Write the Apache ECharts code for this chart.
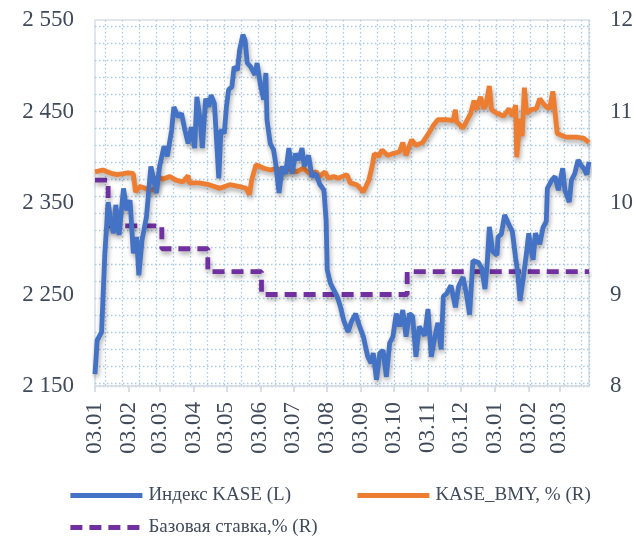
<!DOCTYPE html>
<html>
<head>
<meta charset="utf-8">
<script src="https://cdn.jsdelivr.net/npm/echarts@6/dist/echarts.min.js"></script>
<style>
html,body{margin:0;padding:0;background:#fff;}
#c{width:636px;height:538px;}
</style>
</head>
<body>
<div id="c"></div>
<script>
// ---- data ----
var kaseDates = ['2018-01-03','2018-01-05','2018-01-09','2018-01-12','2018-01-15','2018-01-17','2018-01-20','2018-01-22','2018-01-25','2018-01-29',
'2018-02-01','2018-02-04','2018-02-07','2018-02-10','2018-02-12','2018-02-15','2018-02-19','2018-02-23','2018-02-25','2018-02-28',
'2018-03-03','2018-03-07','2018-03-10','2018-03-14','2018-03-16','2018-03-20','2018-03-23','2018-03-26','2018-03-29',
'2018-04-01','2018-04-04','2018-04-06','2018-04-09','2018-04-11','2018-04-14','2018-04-17','2018-04-19','2018-04-22','2018-04-26','2018-04-28',
'2018-05-01','2018-05-03','2018-05-05','2018-05-08','2018-05-10','2018-05-13','2018-05-15','2018-05-18','2018-05-20','2018-05-22','2018-05-25','2018-05-29','2018-05-31',
'2018-06-03','2018-06-06','2018-06-08','2018-06-09','2018-06-12','2018-06-15','2018-06-17','2018-06-20','2018-06-23','2018-06-26','2018-06-29',
'2018-07-02','2018-07-05','2018-07-08','2018-07-11','2018-07-13','2018-07-17','2018-07-20','2018-07-24','2018-07-27','2018-07-31',
'2018-08-02','2018-08-03','2018-08-06','2018-08-09','2018-08-12','2018-08-15','2018-08-18','2018-08-22','2018-08-25','2018-08-29',
'2018-09-01','2018-09-05','2018-09-09','2018-09-12','2018-09-14','2018-09-17','2018-09-20','2018-09-23','2018-09-26','2018-09-29',
'2018-10-02','2018-10-05','2018-10-08','2018-10-11','2018-10-14','2018-10-17','2018-10-20','2018-10-23','2018-10-26','2018-10-31',
'2018-11-03','2018-11-06','2018-11-09','2018-11-12','2018-11-15','2018-11-17','2018-11-20','2018-11-24','2018-11-28',
'2018-12-01','2018-12-05','2018-12-08','2018-12-11','2018-12-14','2018-12-19','2018-12-22','2018-12-25','2018-12-27','2018-12-29',
'2019-01-01','2019-01-05','2019-01-06','2019-01-09','2019-01-12','2019-01-16','2019-01-19','2019-01-22','2019-01-24','2019-01-26','2019-01-29',
'2019-02-01','2019-02-03','2019-02-05','2019-02-07','2019-02-09','2019-02-13','2019-02-16','2019-02-19','2019-02-20','2019-02-24','2019-02-27',
'2019-03-02','2019-03-06','2019-03-08','2019-03-12','2019-03-14','2019-03-17','2019-03-20','2019-03-23','2019-03-25','2019-03-28','2019-03-30'];
var kaseValues = [2163,2200,2209,2295,2351,2331,2317,2348,2315,2366,
2342,2353,2295,2313,2271,2310,2335,2390,2379,2361,
2390,2412,2401,2430,2455,2444,2448,2430,2415,
2433,2410,2466,2441,2410,2464,2455,2468,2459,2377,2430,
2426,2455,2474,2477,2499,2495,2517,2534,2528,2503,2499,2490,2503,
2479,2463,2492,2441,2415,2408,2393,2361,2390,2382,2410,
2382,2404,2397,2410,2390,2402,2379,2382,2371,2364,
2331,2277,2262,2255,2248,2237,2222,2209,2220,2229,
2217,2204,2182,2175,2186,2157,2186,2189,2160,2197,
2204,2229,2215,2233,2204,2229,2226,2182,2215,2205,
2234,2182,2202,2219,2190,2248,2251,2260,2236,
2259,2269,2251,2228,2287,2285,2279,2256,2283,2324,
2297,2293,2313,2316,2337,2326,2319,2290,2273,2243,2268,
2296,2317,2299,2288,2317,2305,2323,2330,2366,2375,2379,
2364,2388,2364,2351,2375,2382,2397,2391,2388,2381,2395];

var bmyDates = ['2018-01-03','2018-01-10','2018-01-19','2018-01-23','2018-01-29','2018-02-02','2018-02-07','2018-02-09','2018-02-13','2018-02-18','2018-02-23','2018-02-27',
'2018-03-01','2018-03-06','2018-03-12','2018-03-18','2018-03-24','2018-03-29','2018-03-30','2018-04-08','2018-04-17','2018-04-27',
'2018-05-06','2018-05-15','2018-05-21','2018-05-24','2018-05-26','2018-05-30','2018-06-06','2018-06-12','2018-06-18','2018-06-24','2018-06-30',
'2018-07-06','2018-07-12','2018-07-18','2018-07-24','2018-07-27','2018-08-01','2018-08-04','2018-08-09','2018-08-13','2018-08-21','2018-08-24','2018-08-30',
'2018-09-05','2018-09-10','2018-09-13','2018-09-15','2018-09-19','2018-09-22','2018-09-27','2018-10-02','2018-10-08','2018-10-11','2018-10-14','2018-10-19','2018-10-23','2018-10-29',
'2018-11-03','2018-11-08','2018-11-12','2018-11-20','2018-11-26','2018-11-28','2018-11-29','2018-12-05','2018-12-08','2018-12-12','2018-12-15','2018-12-17','2018-12-21','2018-12-24','2018-12-26','2018-12-29','2018-12-31',
'2019-01-05','2019-01-11','2019-01-16','2019-01-19','2019-01-22','2019-01-23','2019-01-26','2019-01-28','2019-01-30','2019-02-01','2019-02-05','2019-02-10','2019-02-13','2019-02-16','2019-02-19','2019-02-22','2019-02-25',
'2019-03-01','2019-03-09','2019-03-18','2019-03-25','2019-03-30'];
var bmyValues = [10.34,10.36,10.32,10.31,10.32,10.33,10.32,10.12,10.18,10.16,10.14,10.16,
10.29,10.26,10.29,10.25,10.23,10.30,10.22,10.22,10.20,10.16,
10.20,10.18,10.16,10.09,10.25,10.42,10.38,10.36,10.38,10.34,10.38,
10.34,10.38,10.32,10.34,10.29,10.34,10.27,10.29,10.27,10.31,10.22,10.20,
10.12,10.25,10.40,10.54,10.51,10.58,10.52,10.54,10.56,10.66,10.52,10.69,10.63,10.66,
10.75,10.85,10.91,10.91,10.90,11.02,10.89,10.82,10.89,10.98,11.12,11.02,11.16,11.03,11.08,11.28,11.02,
10.98,10.95,11.03,10.95,11.07,10.50,10.92,10.73,11.26,10.98,11.02,11.03,11.14,11.09,11.05,11.03,11.22,
10.76,10.72,10.72,10.71,10.66];

var rateDates = ['2018-01-03','2018-01-15','2018-03-05','2018-04-16','2018-06-04','2018-10-15','2019-03-30'];
var rateValues = [10.25,9.75,9.5,9.25,9.0,9.25,9.25];

var tickDates = ['2018-01-03','2018-02-03','2018-03-03','2018-04-03','2018-05-03','2018-06-03','2018-07-03','2018-08-03',
'2018-09-03','2018-10-03','2018-11-03','2018-12-03','2019-01-03','2019-02-03','2019-03-03'];
var leftTicks = [2150, 2250, 2350, 2450, 2550];
var rightTicks = [8, 9, 10, 11, 12];
var names = ['Индекс KASE (L)', 'KASE_BMY, % (R)', 'Базовая ставка,% (R)'];

// ---- build ----
function ts(s){ var p = s.split('-').map(Number); return new Date(p[0], p[1]-1, p[2]).getTime(); }
function zip(d, v){ return d.map(function(x,i){ return [ts(x), v[i]]; }); }
function pad(n){ return (n<10?'0':'')+n; }

var FONT = 'Liberation Serif';
var TXT = '#404a5a';
var GRIDCOL = '#a8c9e8';
var LW = 4.8;
var shadow = {shadowColor:'rgba(0,0,0,0.35)', shadowBlur:5, shadowOffsetX:1, shadowOffsetY:3};

var chart = echarts.init(document.getElementById('c'), null, {renderer:'canvas'});
var dotted = {show:true, lineStyle:{color:GRIDCOL, width:1.3, type:[1.5,2.5]}};
var tickVals = tickDates.map(ts);

function legendAt(name, left, top){
  return {data:[name], left:left, top:top, padding:0, itemWidth:72, itemHeight:14,
    itemStyle:{opacity:0}, lineStyle:{width:LW},
    textStyle:{fontFamily:FONT, fontSize:19, color:TXT, padding:[0,0,0,1]}};
}

chart.setOption({
  animation:false,
  backgroundColor:'#fff',
  grid:[
    {left:95, right:47, top:20, bottom:152, show:true, borderColor:'#d9dee6', borderWidth:1.5, backgroundColor:'transparent'},
    {left:105, right:47, top:20, bottom:152, show:false},
    {left:95, right:47, top:26.7, bottom:152, show:false}
  ],
  xAxis:[
    {type:'value', gridIndex:0, min:ts('2018-01-03'), max:ts('2019-03-30'), scale:true,
     axisLine:{show:true, onZero:false, lineStyle:{color:'#d9dee6', width:1.5}},
     axisTick:{show:true, length:6, lineStyle:{color:'#d0d5dd', width:1.5}, customValues:tickVals},
     axisLabel:{show:true, rotate:90, margin:16, fontFamily:FONT, fontSize:23, color:TXT,
       customValues:tickVals, showMinLabel:true, showMaxLabel:true,
       formatter:function(v){ var d=new Date(v); return pad(d.getDate())+'.'+pad(d.getMonth()+1); }},
     splitLine:{show:false}},
    {type:'value', gridIndex:1, min:0, max:(589-105)/17, interval:1, show:true,
     axisLine:{show:false}, axisTick:{show:false}, axisLabel:{show:false}, splitLine:dotted},
    {type:'value', gridIndex:2, min:0, max:1, show:true,
     axisLine:{show:false}, axisTick:{show:false}, axisLabel:{show:false}, splitLine:{show:false}}
  ],
  yAxis:[
    {type:'value', gridIndex:0, min:leftTicks[0], max:leftTicks[leftTicks.length-1], interval:100, position:'left',
     axisLine:{show:false}, axisTick:{show:false}, splitLine:{show:false},
     axisLabel:{margin:21, fontFamily:FONT, fontSize:23, color:TXT,
       formatter:function(v){ return String(v).replace(/\B(?=(\d{3})+(?!\d))/g,' '); }}},
    {type:'value', gridIndex:0, min:rightTicks[0], max:rightTicks[rightTicks.length-1], interval:1, position:'right',
     axisLine:{show:false}, axisTick:{show:false}, splitLine:{show:false},
     axisLabel:{margin:21, fontFamily:FONT, fontSize:23, color:TXT}},
    {type:'value', gridIndex:1, min:0, max:1, show:true,
     axisLine:{show:false}, axisTick:{show:false}, axisLabel:{show:false}, splitLine:{show:false}},
    {type:'value', gridIndex:2, min:0, max:(386-26.7)/17, interval:1, inverse:true, show:true,
     axisLine:{show:false}, axisTick:{show:false}, axisLabel:{show:false}, splitLine:dotted}
  ],
  legend:[
    legendAt(names[0], 68, 486),
    legendAt(names[1], 355, 486),
    legendAt(names[2], 68, 518)
  ],
  series:[
    {name:names[2], type:'line', xAxisIndex:0, yAxisIndex:1, step:'end', symbol:'none', z:3,
     data:zip(rateDates, rateValues),
     itemStyle:{color:'#7030a0'},
     lineStyle:Object.assign({color:'#7030a0', width:LW, type:[12,7]}, shadow)},
    {name:names[1], type:'line', xAxisIndex:0, yAxisIndex:1, symbol:'none', z:4,
     data:zip(bmyDates, bmyValues),
     itemStyle:{color:'#ed7d31'},
     lineStyle:Object.assign({color:'#ed7d31', width:LW}, shadow)},
    {name:names[0], type:'line', xAxisIndex:0, yAxisIndex:0, symbol:'none', z:5,
     data:zip(kaseDates, kaseValues),
     itemStyle:{color:'#4472c4'},
     lineStyle:Object.assign({color:'#4472c4', width:LW}, shadow)}
  ]
});
</script>
</body>
</html>
